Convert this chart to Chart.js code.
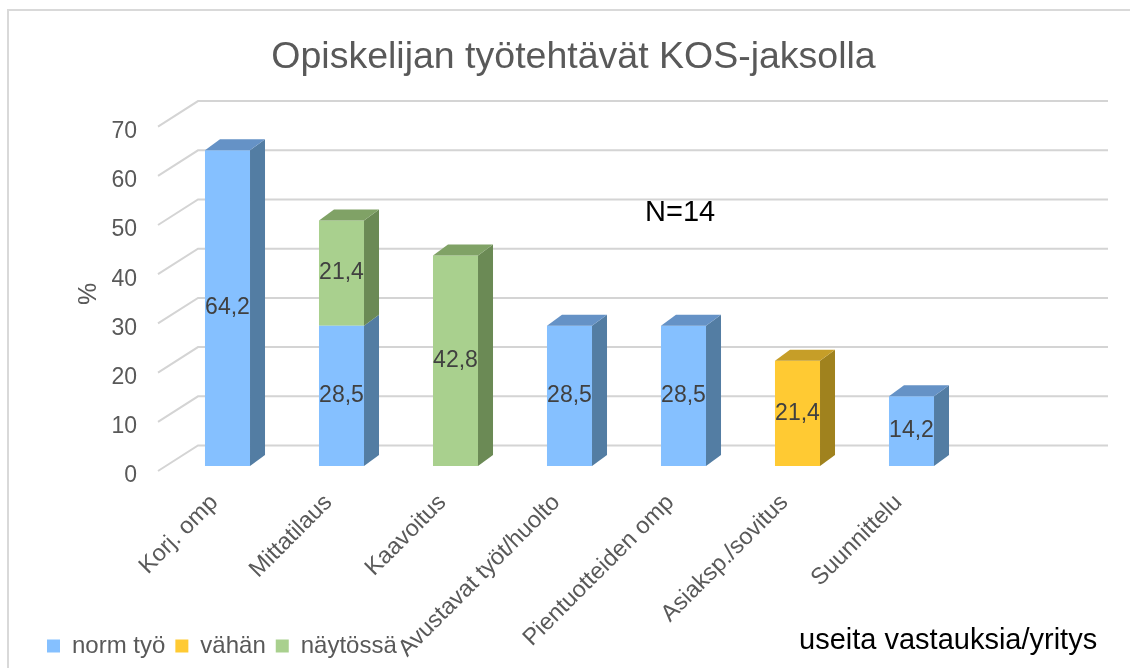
<!DOCTYPE html>
<html>
<head>
<meta charset="utf-8">
<script src="https://cdn.jsdelivr.net/npm/chart.js@4"></script>
<style>
  html, body { margin: 0; padding: 0; background: #fff; }
  #wrap { width: 1130px; height: 668px; }
</style>
</head>
<body>
<div id="wrap"><canvas id="kos"></canvas></div>
<script>
// chart data
const categories = ['Korj. omp', 'Mittatilaus', 'Kaavoitus', 'Avustavat työt/huolto', 'Pientuotteiden omp', 'Asiaksp./sovitus', 'Suunnittelu'];
const normTyo = [64.2, 28.5, null, 28.5, 28.5, null, 14.2];
const vahan = [null, null, null, null, null, 21.4, null];
const naytossa = [null, 21.4, 42.8, null, null, null, null];
const yTicks = [0, 10, 20, 30, 40, 50, 60, 70];

const chartTitle = 'Opiskelijan työtehtävät KOS-jaksolla';
const noteN = 'N=14';
const noteAnswers = 'useita vastauksia/yritys';

// front, side and top colours for each series
const colours = {
    'norm työ': ['#85c0ff', '#537da3', '#6592c6'],
    'vähän': ['#ffca33', '#a0821e', '#c69e28'],
    'näytössä': ['#a9d08e', '#6b8a55', '#80a266']
};

const FONT = '"Liberation Sans", Arial, sans-serif';
const DEPTH_X = 15, DEPTH_Y = -11;

// draws the grey 3d walls behind the bars, then the bar sides and labels
const wallPlugin = {
    id: 'walls',
    afterLayout(chart) {
        // long rotated labels run into the legend area, so let them draw there
        chart.scales.x.bottom = chart.height;
    },
    beforeDatasetsDraw(chart) {
        const ctx = chart.ctx;
        const y = chart.scales.y;
        const area = chart.chartArea;
        ctx.save();
        // outer frame
        ctx.strokeStyle = '#d9d9d9';
        ctx.lineWidth = 2;
        ctx.strokeRect(8, 10, 1140, 700);
        ctx.strokeStyle = '#d4d4d4';
        ctx.lineWidth = 2;
        yTicks.forEach(v => {
            const py = y.getPixelForValue(v);
            ctx.beginPath();
            ctx.moveTo(area.left - 12.5, py + 5);
            ctx.lineTo(area.left + 27.5, py - 20.5);
            ctx.lineTo(area.right + 139.5, py - 20.5);
            ctx.stroke();
        });
        ctx.restore();
    },
    afterDatasetsDraw(chart) {
        const ctx = chart.ctx;
        ctx.save();
        const metas = chart.getSortedVisibleDatasetMetas();
        // which dataset is on top of each stack
        const topIdx = categories.map((c, i) => {
            let top = -1;
            metas.forEach(m => {
                const v = chart.data.datasets[m.index].data[i];
                if (v !== null && v > 0) top = m.index;
            });
            return top;
        });
        metas.forEach(m => {
            const ds = chart.data.datasets[m.index];
            const col = colours[ds.label];
            m.data.forEach((bar, i) => {
                const v = ds.data[i];
                if (v === null || v <= 0) return;
                const p = bar.getProps(['x', 'y', 'base', 'width'], true);
                const l = p.x - p.width / 2, r = p.x + p.width / 2;
                // side
                ctx.fillStyle = col[1];
                ctx.beginPath();
                ctx.moveTo(r, p.base);
                ctx.lineTo(r + DEPTH_X, p.base + DEPTH_Y);
                ctx.lineTo(r + DEPTH_X, p.y + DEPTH_Y);
                ctx.lineTo(r, p.y);
                ctx.closePath();
                ctx.fill();
                // top only for highest segment
                if (topIdx[i] === m.index) {
                    ctx.fillStyle = col[2];
                    ctx.beginPath();
                    ctx.moveTo(l, p.y);
                    ctx.lineTo(l + DEPTH_X, p.y + DEPTH_Y);
                    ctx.lineTo(r + DEPTH_X, p.y + DEPTH_Y);
                    ctx.lineTo(r, p.y);
                    ctx.closePath();
                    ctx.fill();
                }
                // value label
                ctx.fillStyle = '#404040';
                ctx.font = '23px ' + FONT;
                ctx.textAlign = 'center';
                ctx.textBaseline = 'middle';
                ctx.fillText(String(v).replace('.', ','), p.x, (p.y + p.base) / 2);
            });
        });
        // notes
        ctx.fillStyle = '#000';
        ctx.font = '29px ' + FONT;
        ctx.textAlign = 'left';
        ctx.textBaseline = 'middle';
        ctx.fillText(noteN, 645, 213);
        ctx.fillText(noteAnswers, 799, 641);
        ctx.restore();
    }
};

const ctx = document.getElementById('kos').getContext('2d');
const kosChart = new Chart(ctx, {
    type: 'bar',
    data: {
        labels: categories,
        datasets: [
            { label: 'norm työ', data: normTyo, backgroundColor: colours['norm työ'][0] },
            { label: 'vähän', data: vahan, backgroundColor: colours['vähän'][0] },
            { label: 'näytössä', data: naytossa, backgroundColor: colours['näytössä'][0] }
        ]
    },
    options: {
        responsive: true,
        maintainAspectRatio: false,
        animation: false,
        datasets: {
            bar: { categoryPercentage: 1, barPercentage: 0.395 }
        },
        layout: { padding: { left: 37, right: 20, top: 10, bottom: 0 } },
        scales: {
            x: {
                stacked: true,
                grid: { display: false, drawTicks: false },
                border: { display: false },
                ticks: {
                    color: '#595959',
                    font: { size: 23.5, family: FONT },
                    minRotation: 45,
                    maxRotation: 45,
                    padding: 23,
                    labelOffset: -13
                },
                afterFit(s) { s.height = 158; }
            },
            y: {
                stacked: true,
                min: 0,
                max: 70,
                grid: { display: false, drawTicks: false },
                border: { display: false },
                ticks: {
                    stepSize: 10,
                    color: '#595959',
                    font: { size: 23, family: FONT },
                    padding: 33.5,
                    labelOffset: 10
                },
                title: {
                    display: true,
                    text: '%',
                    color: '#595959',
                    font: { size: 25, family: FONT },
                    padding: { top: 37.5, bottom: 0 }
                },
                afterFit(s) { s.width = 133.5; }
            },
            // empty axis on the right only to keep the bar area narrow
            yRight: {
                position: 'right',
                display: true,
                grid: { display: false, drawTicks: false },
                border: { display: false },
                ticks: { display: false },
                afterFit(s) { s.width = 141.5; }
            }
        },
        plugins: {
            title: {
                display: true,
                text: chartTitle,
                color: '#595959',
                font: { size: 37.5, weight: 'normal', family: FONT },
                padding: { top: 25.5, bottom: 41.1 }
            },
            legend: {
                position: 'bottom',
                align: 'start',
                labels: {
                    color: '#595959',
                    font: { size: 24, family: FONT },
                    boxWidth: 13,
                    boxHeight: 13,
                    padding: 10
                }
            },
            tooltip: { enabled: false }
        }
    },
    plugins: [wallPlugin]
});
</script>
</body>
</html>
